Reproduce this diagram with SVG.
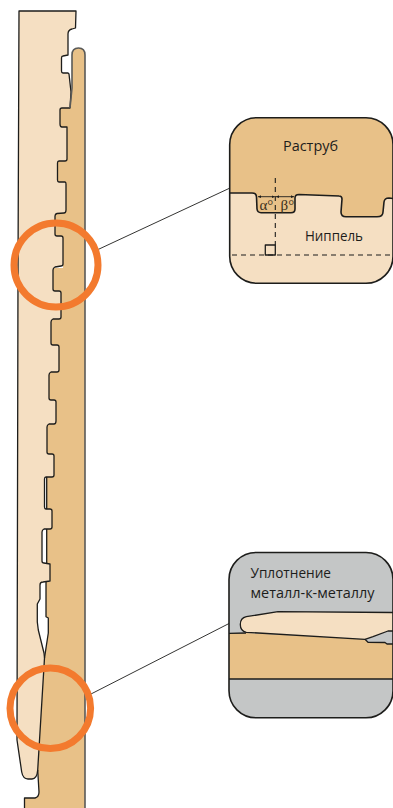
<svg xmlns="http://www.w3.org/2000/svg" width="393" height="808" viewBox="0 0 393 808">
<style>
.tan{fill:#E8C188}
.light{fill:#F5DFC2}
.gray{fill:#C4C6C6}
.ln{fill:none;stroke:#1d1d1b;stroke-width:1.3;stroke-linejoin:round}
.bd{fill:none;stroke:#1d1d1b;stroke-width:1.6;stroke-linejoin:round}
.side{fill:none;stroke:#5a5a58;stroke-width:1.6;stroke-linejoin:round}
.dash{fill:none;stroke:#1d1d1b;stroke-width:1.1;stroke-dasharray:5 4}
.lead{fill:none;stroke:#1d1d1b;stroke-width:.9}
.ring{fill:none;stroke:#F37A2E;stroke-width:7}
.t{font-family:"Open Sans","Noto Sans",sans-serif;font-size:14.2px;fill:#1d1d1b}
.g{font-family:"Liberation Serif",serif;font-size:15px;fill:#3a2f1a}
</style>
<defs>
<clipPath id="c1"><rect x="229.700" y="117.700" width="163.300" height="165.600" rx="27"/></clipPath>
<clipPath id="c2"><rect x="229" y="552.500" width="164" height="165.300" rx="27"/></clipPath>
<marker id="ah" markerWidth="4" markerHeight="4" refX="3.500" refY="2" orient="auto-start-reverse"><path d="M0 0.400L3.500 2L0 3.600z" fill="#1d1d1b"/></marker>
</defs>
<g id="pipe">
<path id="box" class="tan" d="M72 55Q72 48 78.500 48Q85 48 85 55L85 808L24.500 808L24.500 798L35 798Q39 797 39 792L37.700 770L44 658L46 648L48.300 633L48.300 618L46 616.700L46 582L50 582L50 563L46.700 563L46.700 509L52 509L52 529L46.700 529L46.700 477L54 477L54 454L46.700 454L46.700 424L56 424L56 400L49 400L49 372L59 372L59 345L51 345L51 319L61 319L61 291L53 291L53 268L63 268L63 236L55 236L55 213L66 213L66 182L57 182L57 161L67 161L67 127L60 127L60 108L70 108L72 88Z"/>
<path id="pin" class="light" d="M19 11L76 11L75.500 28L72 29Q68 30 68 34L68 55L63 56Q61.500 56 61.500 58L61.500 71Q61.500 73 63 73L68 73L69 74L71 92L70 108L62 108Q60 108 60 110L60 124Q60 127 62 127L67 127L67 159Q67 161 65 161L59 161Q57.500 161 57.500 163L57.500 180Q57.500 182 59 182L65 182Q66 182 66 184L66 210Q66 213 64 213L57 213.500Q55 214 55 216L55 234Q55 236 57 236L61 236Q63 236 63 238L63 264Q63 266 61 266L55 267Q53 268 53 270L53 289Q53 291 55 291L59 291Q61 291 61 293L61 317Q61 319 59 319L53 319Q51 320 51 322L51 343Q51 345 53 345L57 345Q59 345 59 347L59 370Q59 372 57 372L51 372Q49 373 49 375L49 398Q49 400 51 400L54 400Q56 400 56 402L56 421Q56 424 54 424L49 424Q47 425 47 427L47 452Q47 454 49 454L52 454Q54 454 54 456L54 475Q54 477 52 477L46 477Q44.500 477 44.500 479L44.500 507Q44.500 509 46 509L50 509Q52 509 52 511L52 527Q52 529 50 529L44 529Q42 530 42 532L42 561Q42 563 44 563L50 564L50 581L43 582Q40 582 40 585L40 599L37.300 604L37.300 622L38.300 630L44 653L44.500 658L37.700 770Q37 779 32 779L28 779Q23 779 21.700 772L17 740L18 270L19 11Z"/>
<path class="ln" d="M76 11L19 11L18 270L17 740L21.700 772Q23 779 28 779L32 779Q37 779 37.700 770L44.500 658L44 653L38.300 630L37.300 622L37.300 604L40 599L40 585Q40 582 43 582L50 581L50 564L44 563Q42 563 42 561L42 532Q42 530 44 529L50 529Q52 529 52 527L52 511Q52 509 50 509L46 509Q44.500 509 44.500 507L44.500 479Q44.500 477 46 477L52 477Q54 477 54 475L54 456Q54 454 52 454L49 454Q47 454 47 452L47 427Q47 425 49 424L54 424Q56 424 56 421L56 402Q56 400 54 400L51 400Q49 400 49 398L49 375Q49 373 51 372L57 372Q59 372 59 370L59 347Q59 345 57 345L53 345Q51 345 51 343L51 322Q51 320 53 319L59 319Q61 319 61 317L61 293Q61 291 59 291L55 291Q53 291 53 289L53 270Q53 268 55 267L61 266Q63 266 63 264L63 238Q63 236 61 236L57 236Q55 236 55 234L55 216Q55 214 57 213.500L64 213Q66 213 66 210L66 184Q66 182 65 182L59 182Q57.500 182 57.500 180L57.500 163Q57.500 161 59 161L65 161Q67 161 67 159L67 127L62 127Q60 127 60 124L60 110Q60 108 62 108L70 108L71 92L69 74L68 73L63 73Q61.500 73 61.500 71L61.500 58Q61.500 56 63 56L68 55L68 34Q68 30 72 29L75.500 28L76 11Z"/>
<path class="side" d="M70 108L72 88L72 55Q72 48 78.500 48Q85 48 85 55L85 808"/>
<path class="ln" d="M24.500 808L24.500 798L35 798Q39 797 39 792L37.700 770"/>
<path class="ln" d="M44.500 658L46 648L48.300 633L48.300 618L46 616.700L46 582"/>
<path class="ln" d="M46.700 563L46.700 529M46.700 509L46.700 477"/>
</g>
<g id="connectors">
<path class="lead" d="M97 250L230 188"/>
<path class="lead" d="M89 695L230 623"/>
</g>
<g id="ring-top"><circle class="ring" cx="56" cy="265" r="42"/></g>
<g id="ring-bottom"><circle class="ring" cx="50.300" cy="708.300" r="40.300"/></g>
<g id="detail-thread">
<g clip-path="url(#c1)">
<rect class="light" x="229" y="117" width="164" height="167"/>
<path class="tan" d="M229 193L252 193Q256.500 193 256.500 197L257 209Q257.500 212.700 261 212.700L291 212.700Q295 212.700 295 209L295 198Q295 194.500 299 194.500L339 196Q342 196 342 199L341 212Q341 216.700 346 216.700L377 216.700Q383 216.700 383 212L384 202Q384.500 198 389 198L393 198.500L393 117L229 117Z"/>
<path class="bd" d="M229 193L252 193Q256.500 193 256.500 197L257 209Q257.500 212.700 261 212.700L291 212.700Q295 212.700 295 209L295 198Q295 194.500 299 194.500L339 196Q342 196 342 199L341 212Q341 216.700 346 216.700L377 216.700Q383 216.700 383 212L384 202Q384.500 198 389 198L393 198.500"/>
<path class="dash" d="M275.300 178L275.300 245"/>
<path class="dash" d="M232 255L393 255"/>
<rect class="ln" x="265.300" y="245" width="10" height="10"/>
<path class="lead" marker-start="url(#ah)" marker-end="url(#ah)" d="M258 196.700L274.800 196.700"/>
<path class="lead" marker-start="url(#ah)" marker-end="url(#ah)" d="M276 196.700L294 196.700"/>
</g>
<rect class="bd" x="229.700" y="117.700" width="163.300" height="165.600" rx="27"/>
<text class="g" x="259.500" y="210">α°</text>
<text class="g" x="280.500" y="210">β°</text>
<text class="t" x="283" y="151" textLength="55" lengthAdjust="spacingAndGlyphs">Раструб</text>
<text class="t" x="305" y="241" textLength="58" lengthAdjust="spacingAndGlyphs">Ниппель</text>
</g>
<g id="detail-seal">
<g clip-path="url(#c2)">
<rect class="gray" x="229" y="552" width="164" height="166"/>
<path class="tan" d="M229 633.300L246 633L365 639.300L368 642.300L385 642.500L387 644L393 644L393 679L229 679Z"/>
<path class="light" d="M246.300 616.700L278 611.700L393 612.500L393 631L388 631L373 636.700L365 639.300L246.300 632.300Q240.300 631 240.300 624.500Q240.300 618 246.300 616.700Z"/>
<path class="ln" d="M393 612.500L278 611.700L246.300 616.700Q240.300 618 240.300 624.500Q240.300 631 246.300 632.300L365 639.300L373 636.700L388 631L393 631"/>
<path class="ln" d="M229 633.300L246 633M365 639.300L368 642.300L385 642.500L387 644L393 644"/>
<path class="ln" d="M229 679L393 679"/>
</g>
<rect class="bd" x="229" y="552.500" width="164" height="165.300" rx="27"/>
<text class="t" x="250.500" y="578" textLength="80.500" lengthAdjust="spacingAndGlyphs">Уплотнение</text>
<text class="t" x="250.500" y="598" textLength="124" lengthAdjust="spacingAndGlyphs">металл-к-металлу</text>
</g>
</svg>
